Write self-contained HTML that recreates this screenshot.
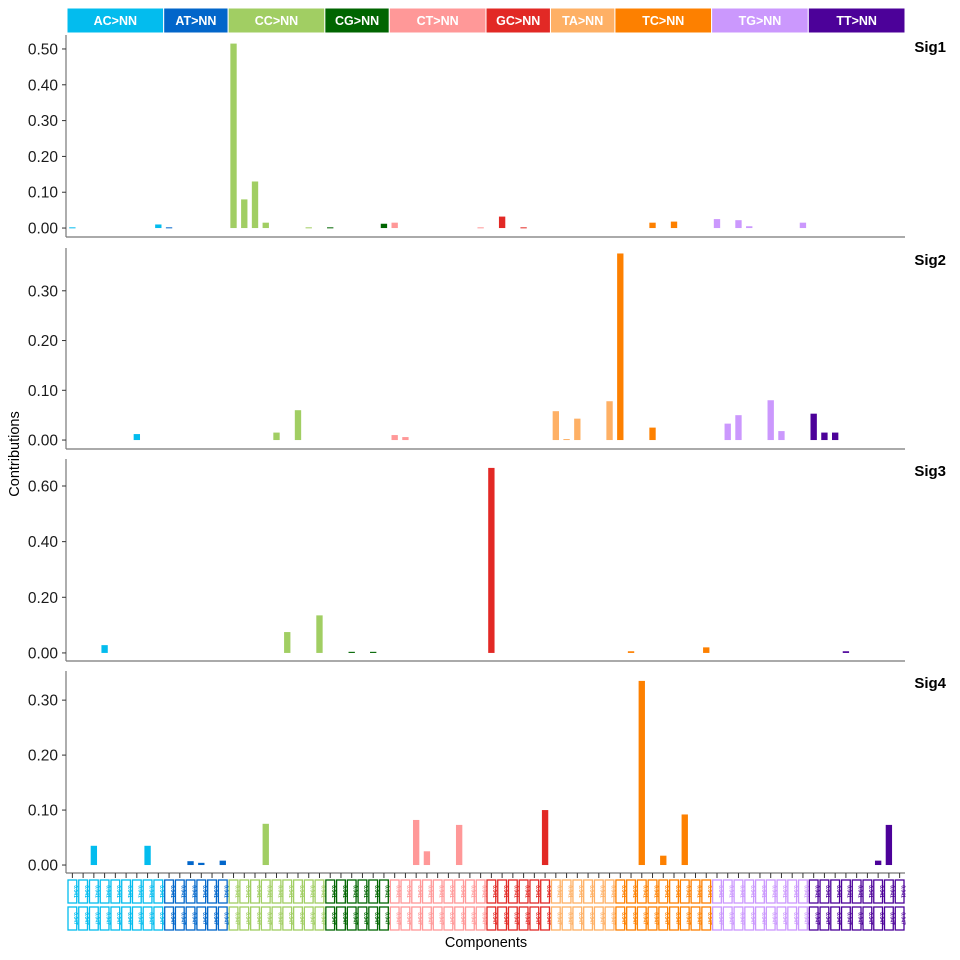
<!DOCTYPE html>
<html><head><meta charset="utf-8"><style>
body{margin:0;background:#fff;font-family:"Liberation Sans",sans-serif}
svg{display:block}
</style></head><body>
<svg id="chart" width="960" height="960" xmlns="http://www.w3.org/2000/svg"></svg>
<script>
const groups = ["AC>NN","AT>NN","CC>NN","CG>NN","CT>NN","GC>NN","TA>NN","TC>NN","TG>NN","TT>NN"];
const groupSizes = [9,6,9,6,9,6,6,9,9,9];
const groupColors = ["#03BCEE","#0266CA","#A1CE63","#006501","#FF9898","#E22925","#FEB065","#FD8000","#CB98FD","#4C0199"];
const signatures = ["Sig1","Sig2","Sig3","Sig4"];
const sig1 = {0:0.002,8:0.01,9:0.002,15:0.515,16:0.08,17:0.13,18:0.015,22:0.002,24:0.002,29:0.012,30:0.015,38:0.002,40:0.032,42:0.002,54:0.015,56:0.018,60:0.025,62:0.022,63:0.005,68:0.015};
const sig2 = {6:0.012,19:0.015,21:0.06,30:0.01,31:0.006,45:0.058,46:0.002,47:0.043,50:0.078,51:0.375,54:0.025,61:0.033,62:0.05,65:0.08,66:0.018,69:0.053,70:0.015,71:0.015};
const sig3 = {3:0.028,20:0.075,23:0.135,26:0.004,28:0.004,39:0.665,52:0.006,59:0.02,72:0.006};
const sig4 = {2:0.035,7:0.035,11:0.007,12:0.004,14:0.008,18:0.075,32:0.082,33:0.025,36:0.073,44:0.1,53:0.335,55:0.017,57:0.092,75:0.008,76:0.073};
const sigValues = [sig1,sig2,sig3,sig4];
const yTicks1 = ["0.00","0.10","0.20","0.30","0.40","0.50"];
const yTicks2 = ["0.00","0.10","0.20","0.30"];
const yTicks3 = ["0.00","0.20","0.40","0.60"];
const yTicks4 = ["0.00","0.10","0.20","0.30"];
const yTickSets = [yTicks1,yTicks2,yTicks3,yTicks4];
const yMins = [-0.025,-0.018,-0.029,-0.0145];
const yMaxs = [0.539,0.386,0.697,0.353];

const NS="http://www.w3.org/2000/svg";
const svg=document.getElementById('chart');
function mk(tag,attrs,parent){const e=document.createElementNS(NS,tag);for(const k in attrs)e.setAttribute(k,attrs[k]);(parent||svg).appendChild(e);return e;}
const X0=67, X1=905, N=78, step=(X1-X0)/N;
function xScale(i){return X0+i*step;}
const panelTops=[35,248,459,671], panelBots=[237,449,661,873];
const catColor=[];
groups.forEach((g,gi)=>{for(let k=0;k<groupSizes[gi];k++){catColor.push(groupColors[gi]);}});

let ci=0;
groups.forEach((g,gi)=>{
  const x=xScale(ci), w=groupSizes[gi]*step;
  const r=mk('rect',{x:x,y:8,width:w,height:25,fill:groupColors[gi],stroke:'#fff','stroke-width':1});
  
  
  const t=mk('text',{x:x+w/2,y:25,'text-anchor':'middle','font-size':12.5,'font-weight':'bold',fill:'#fff'});
  t.textContent=g;
  
  
  ci+=groupSizes[gi];
});

signatures.forEach((s,p)=>{
  const top=panelTops[p], bot=panelBots[p];
  const g=mk('g',{});
  
  
  const yS=v=>bot-(v-yMins[p])/(yMaxs[p]-yMins[p])*(bot-top);
  mk('line',{x1:66,y1:top,x2:66,y2:bot,stroke:'#777','stroke-width':1.2},g);
  mk('line',{x1:66,y1:bot,x2:X1,y2:bot,stroke:'#777','stroke-width':1.2},g);
  yTickSets[p].forEach(tl=>{
    const y=yS(parseFloat(tl));
    mk('line',{x1:62,y1:y,x2:66,y2:y,stroke:'#333'},g);
    const t=mk('text',{x:58,y:y+5.5,'text-anchor':'end','font-size':15.5,fill:'#1a1a1a'},g);
    t.textContent=tl;
    
    
  });
  const vals=sigValues[p];
  for(const k in vals){
    const i=+k, v=vals[k];
    const y0=yS(0), y1=yS(v);
    const b=mk('rect',{x:xScale(i)+2.2,y:Math.min(y0,y1),width:step-4.4,height:Math.max(1,Math.abs(y0-y1)),fill:catColor[i]},g);
    
    
  }
  const lt=mk('text',{x:946,y:top+17,'text-anchor':'end','font-size':15,'font-weight':'bold',fill:'#000'},g);
  lt.textContent=s;
  
  
});

for(let i=0;i<N;i++){
  const cx=xScale(i)+step/2;
  mk('line',{x1:cx,y1:873,x2:cx,y2:878,stroke:'#333'});
  [880,907].forEach((yy,r)=>{
    const bx=mk('rect',{x:xScale(i)+1,y:yy,width:step-2,height:23,fill:'#fff',stroke:catColor[i],'stroke-width':1.3});
    
    
    const t=mk('text',{x:0,y:0,'font-size':5,'font-weight':'bold',fill:catColor[i],'text-anchor':'middle',transform:`translate(${cx+1.8},${yy+11.5}) rotate(90)`});
    t.textContent=r===0?'0.041':'0.047';
    
    
  });
}

const xt=mk('text',{x:486,y:947,'text-anchor':'middle','font-size':14.5,fill:'#000'});
xt.textContent='Components';


const yt=mk('text',{x:0,y:0,'text-anchor':'middle','font-size':14.5,fill:'#000',transform:'translate(19,454) rotate(-90)'});
yt.textContent='Contributions';


</script>
</body></html>
